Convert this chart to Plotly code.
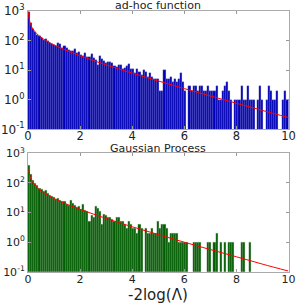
import numpy as np
import plotly.graph_objects as go

# ---------------- data ----------------
BIN_LO, BIN_HI, N_BINS = 0.0, 10.0, 125

adhoc_counts = [
    950, 400, 240, 195, 160, 140, 125, 108, 112, 96,
    84, 78, 70, 66, 80, 74, 57, 64, 58, 48,
    46, 43, 50, 37, 42, 33, 31, 38, 27, 28,
    34, 26, 22, 15, 29, 24, 20, 18, 19, 19,
    17, 14, 13, 15, 15, 11, 12, 14, 16, 11,
    11, 8, 11, 9, 7, 10, 9, 6, 8, 6,
    5, 5, 5, 2, 2, 10, 5, 5, 6, 4,
    5, 4, 5, 8, 4, 2, 0, 3, 2, 3,
    3, 2, 3, 3, 2, 2, 3, 2, 2, 2,
    3, 1, 1, 2, 3, 4, 2, 1, 0, 1,
    1, 1, 3, 1, 1, 3, 1, 1, 1, 0,
    1, 3, 1, 0, 1, 3, 2, 1, 1, 2,
    0, 0, 1, 2, 1,
]

gp_counts = [
    400, 190, 125, 100, 85, 68, 60, 52, 55, 44,
    38, 34, 33, 29, 30, 26, 24, 23, 19, 18,
    26, 20, 17, 15, 16, 13, 19, 12, 11, 5,
    8, 7, 16, 14, 11, 4, 9, 8, 7, 7,
    6, 5, 7, 7, 5, 5, 4, 3, 5, 4,
    3, 3, 2, 4, 3, 0, 3, 2, 2, 3,
    2, 2, 5, 3, 4, 4, 3, 1, 2, 2,
    2, 2, 1, 1, 1, 1, 1, 0, 0, 1,
    1, 1, 1, 0, 0, 0, 1, 1, 0, 1,
    2, 0, 1, 0, 1, 0, 1, 1, 1, 0,
    0, 0, 1, 1, 0, 0, 1, 0, 0, 0,
    0, 0, 0, 0, 0, 0, 0, 0, 0, 0,
    0, 0, 0, 0, 0,
]

fit_x = [0.015, 0.02, 0.04, 0.08, 0.15, 0.25, 0.4, 0.6, 0.8, 1.0,
         1.5, 2.0, 2.5, 3.0, 4.0, 5.0, 6.0, 7.0, 8.0, 9.0, 10.0]
adhoc_fit = [950, 821, 575, 398, 281, 207, 152, 112, 87.9, 71.1,
             45.2, 30.5, 21.3, 15.1, 7.94, 4.31, 2.38, 1.34, 0.759, 0.434, 0.250]
gp_fit_x = [0.03, 0.04, 0.08, 0.15, 0.25, 0.4, 0.6, 0.8, 1.0,
            1.5, 2.0, 2.5, 3.0, 4.0, 5.0, 6.0, 7.0, 8.0, 9.0, 10.0]
gp_fit = [278, 240, 166, 117, 86.5, 63.5, 46.8, 36.7, 29.7,
          18.9, 12.7, 8.9, 6.3, 3.3, 1.8, 0.99, 0.56, 0.32, 0.18, 0.105]

x_ticks = [0, 2, 4, 6, 8, 10]
y_tickvals = [0.1, 1, 10, 100, 1000]
y_ticktext = ["10<sup>-1</sup>", "10<sup>0</sup>", "10<sup>1</sup>", "10<sup>2</sup>", "10<sup>3</sup>"]

titles = ["ad-hoc function", "Gaussian Process"]
x_title = "-2log(\u039b)"

# ---------------- figure ----------------
edges = np.linspace(BIN_LO, BIN_HI, N_BINS + 1)
centers = (edges[:-1] + edges[1:]) / 2
width = edges[1] - edges[0]

def nz(v):
    return [c if c > 0 else None for c in v]

fig = go.Figure()
fig.add_trace(go.Bar(x=centers, y=nz(adhoc_counts), width=width,
                     marker=dict(color="#0000bb", line=dict(color="#9090a8", width=0.25)),
                     xaxis="x", yaxis="y", showlegend=False))
fig.add_trace(go.Scatter(x=fit_x, y=adhoc_fit, mode="lines", line=dict(color="#ff0000", width=1, shape="spline"),
                         xaxis="x", yaxis="y", showlegend=False))
fig.add_trace(go.Bar(x=centers, y=nz(gp_counts), width=width,
                     marker=dict(color="#005f00", line=dict(color="#90a890", width=0.25)),
                     xaxis="x2", yaxis="y2", showlegend=False))
fig.add_trace(go.Scatter(x=gp_fit_x, y=gp_fit, mode="lines", line=dict(color="#ff0000", width=1, shape="spline"),
                         xaxis="x2", yaxis="y2", showlegend=False))

xdom = [28 / 299, 288.5 / 299]
top_dom = [1 - 129.3 / 305, 1 - 11 / 305]
bot_dom = [1 - 271.7 / 305, 1 - 153.3 / 305]

def xax(fs, anchor, standoff):
    return dict(domain=xdom, range=[0, 10], tickvals=x_ticks, ticks="inside", ticklen=3,
                tickcolor="#999999", showline=True, linecolor="#aaaaaa", linewidth=1, mirror="ticks",
                showgrid=False, zeroline=False, automargin=False, ticklabelstandoff=standoff,
                tickfont=dict(family="DejaVu Sans", size=fs, color="#222222"),
                anchor=anchor)

def yax(dom, fs, anchor):
    return dict(domain=dom, type="log", range=[-1, 3], tickvals=y_tickvals, ticktext=y_ticktext,
                ticks="inside", ticklen=3, tickcolor="#999999", showline=True, linecolor="#aaaaaa",
                linewidth=1, mirror="ticks", showgrid=False, zeroline=False, automargin=False,
                tickfont=dict(family="DejaVu Sans", size=fs, color="#222222"), anchor=anchor)

fig.update_layout(
    width=299, height=305,
    margin=dict(l=0, r=0, t=0, b=0, autoexpand=False),
    paper_bgcolor="white", plot_bgcolor="white",
    bargap=0,
    xaxis=xax(11.5, "y", -4), yaxis=yax(top_dom, 12, "x"),
    xaxis2=xax(11, "y2", -3), yaxis2=yax(bot_dom, 11, "x2"),
    annotations=[
        dict(text=titles[0], x=(xdom[0] + xdom[1]) / 2, y=top_dom[1], xref="paper", yref="paper",
             xanchor="center", yanchor="bottom", yshift=-3, showarrow=False,
             font=dict(family="DejaVu Sans", size=11, color="#222222")),
        dict(text=titles[1], x=(xdom[0] + xdom[1]) / 2, y=bot_dom[1], xref="paper", yref="paper",
             xanchor="center", yanchor="bottom", yshift=-4, showarrow=False,
             font=dict(family="DejaVu Sans", size=11, color="#222222")),
        dict(text=x_title, x=(xdom[0] + xdom[1]) / 2, y=1 - 295 / 305, xref="paper", yref="paper",
             xanchor="center", yanchor="middle", showarrow=False,
             font=dict(family="DejaVu Sans", size=15, color="#222222")),
    ],
)

fig.write_html("out.html", config={"displayModeBar": False},
               post_script="document.body.style.margin='0';document.body.style.overflow='hidden';")
